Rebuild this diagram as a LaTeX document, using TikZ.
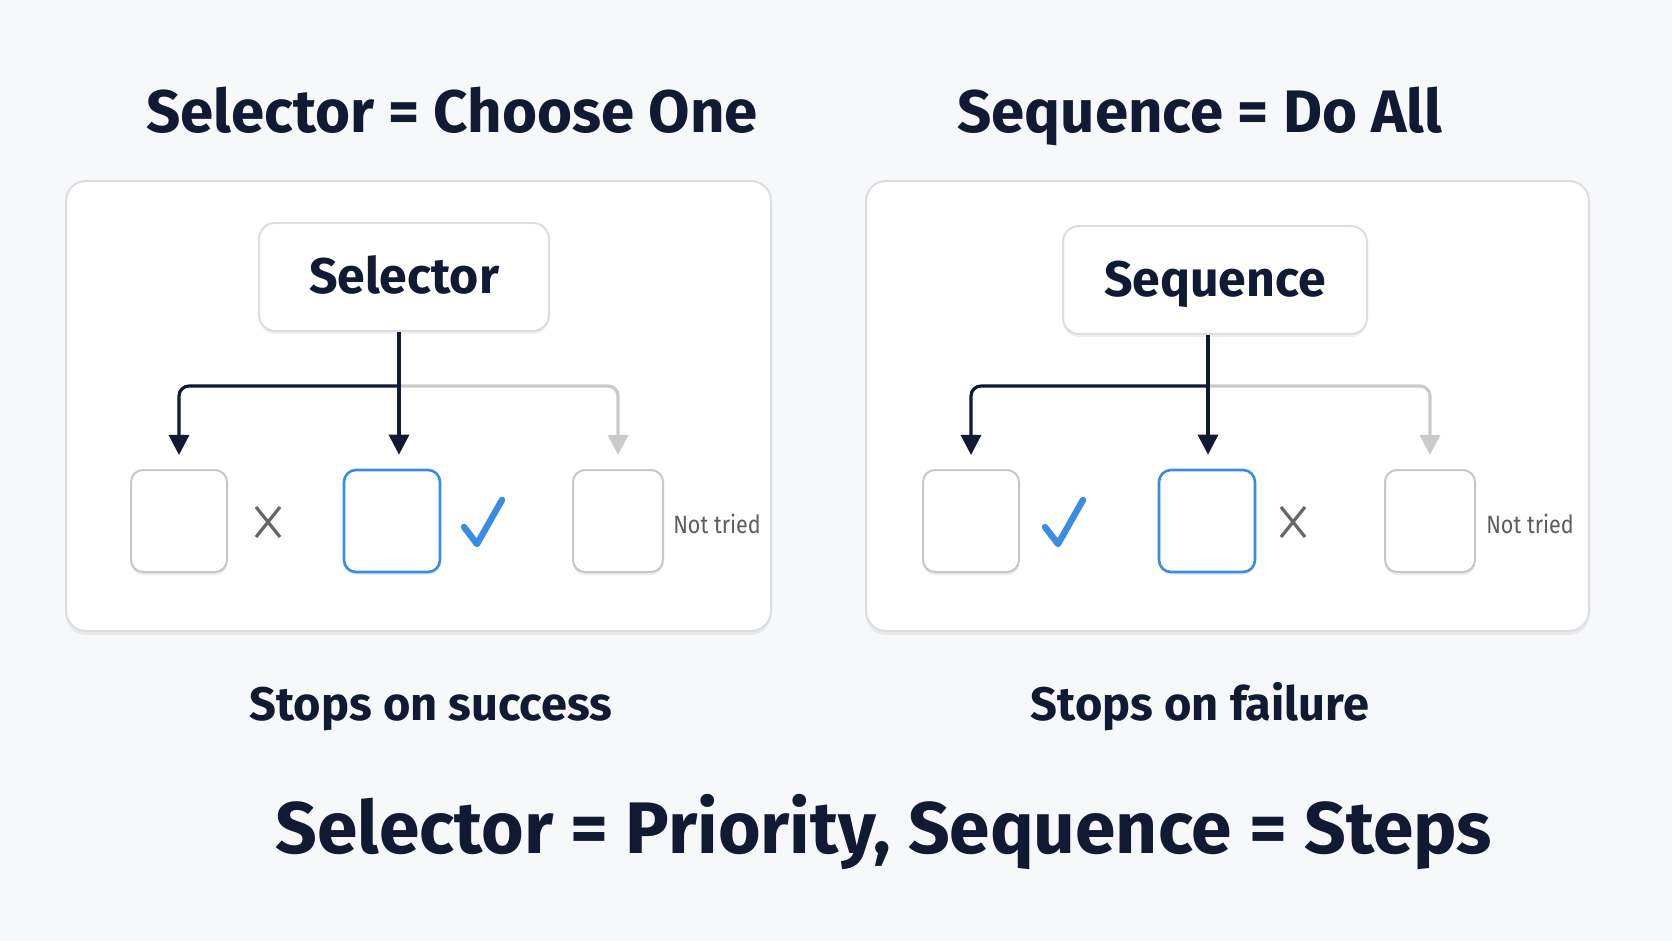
\documentclass[tikz,border=0pt]{standalone}
\usepackage{fontspec}
\setmainfont{Fira Sans}
\newfontfamily\narrowfont[FakeStretch=0.86]{Fira Sans}
\usetikzlibrary{positioning,shadows,arrows.meta}

\definecolor{navy}{HTML}{111A33}
\definecolor{pagebg}{HTML}{F7F8FA}
\definecolor{rimgray}{HTML}{DCDDE0}
\definecolor{lightarrow}{HTML}{C9CACC}
\definecolor{okblue}{HTML}{3A8BE3}
\definecolor{markgray}{HTML}{666666}

\tikzset{
  headline/.style={text=navy, anchor=base, font=\bfseries\fontsize{30}{36}\selectfont},
  caption/.style={text=navy, anchor=base, font=\bfseries\fontsize{23.5}{28}\selectfont},
  panel/.style={draw=rimgray, line width=1pt, fill=white, rounded corners=10pt,
    drop shadow={opacity=0.12, shadow xshift=0pt, shadow yshift=-2pt}},
  parent/.style={draw=rimgray, line width=1pt, fill=white, rounded corners=8pt,
    text=navy, font=\bfseries\fontsize{25}{30}\selectfont,
    text height=20pt, text depth=3pt,
    drop shadow={opacity=0.12, shadow xshift=0pt, shadow yshift=-1.5pt}},
  child/.style={draw=rimgray!90!black, line width=1pt, fill=white, rounded corners=6pt,
    minimum width=48pt, minimum height=51pt,
    drop shadow={opacity=0.14, shadow xshift=0pt, shadow yshift=-1.5pt}},
  active/.style={child, draw=okblue, line width=1.3pt},
  link/.style={draw=navy, line width=1.6pt, rounded corners=5pt,
    -{Triangle[length=10pt,width=10pt]}, shorten >=7pt},
  skip/.style={link, draw=lightarrow, -{Triangle[length=10pt,width=10pt,fill=lightarrow]}},
  faded/.style={text=markgray!90!black, font=\narrowfont\fontsize{12.5}{14}\selectfont},
  okmark/.pic={\draw[okblue, line width=3.2pt, line cap=round, line join=round]
    (-19,0) -- (-6,17) -- (19,-27);},
  failmark/.pic={\draw[markgray, line width=1.6pt]
    (-12,-15) -- (12,15) (-12,15) -- (12,-15);}
}

\begin{document}
\begin{tikzpicture}[x=0.5pt,y=-0.5pt]
% background
\fill[pagebg] (0,0) rectangle (1672,941);

% headlines
\node[headline] (selhead) at (452,133) {Selector = Choose One};
\node[headline] (seqhead) at (1200,133) {Sequence = Do All};

% panels
\node[panel, minimum width=352.5pt, minimum height=225pt] (selpanel) at (418.5,406) {};
\node[panel, minimum width=361.5pt, minimum height=225pt] (seqpanel) at (1227.5,406) {};

% selector side
\node[parent, minimum width=145pt, minimum height=54pt] (sel) at (404,277) {Selector};
\node[child] (sel1) at (179,521) {};
\node[active] (sel2) at (392,521) {};
\node[child, minimum width=45pt] (sel3) at (618,521) {};
\coordinate (selfork) at (399,386);

\draw[skip] (selfork) -| (sel3.north);
\draw[link] (selfork) -| (sel1.north);
\draw[link] (sel.south -| selfork) -- (selfork |- sel2.north);

\pic at (268,522) {failmark};
\pic at (483,527) {okmark};
\node[faded] (selnot) at (717,524) {Not tried};

% sequence side
\node[parent, minimum width=152pt, minimum height=54pt] (seq) at (1215,280) {Sequence};
\node[child] (seq1) at (971,521) {};
\node[active] (seq2) at (1207,521) {};
\node[child, minimum width=45pt] (seq3) at (1430,521) {};
\coordinate (seqfork) at (1208,386);

\draw[skip] (seqfork) -| (seq3.north);
\draw[link] (seqfork) -| (seq1.north);
\draw[link] (seq.south -| seqfork) -- (seqfork |- seq2.north);

\pic at (1064,527) {okmark};
\pic at (1293,522) {failmark};
\node[faded] (seqnot) at (1530,524) {Not tried};

% captions
\node[caption] (selcap) at (431,720) {Stops on success};
\node[caption] (seqcap) at (1200,720) {Stops on failure};

% bottom line
\node[headline, font=\bfseries\fontsize{36.5}{42}\selectfont] (summary) at (884,853)
  {Selector = Priority, Sequence = Steps};
\end{tikzpicture}
\end{document}
